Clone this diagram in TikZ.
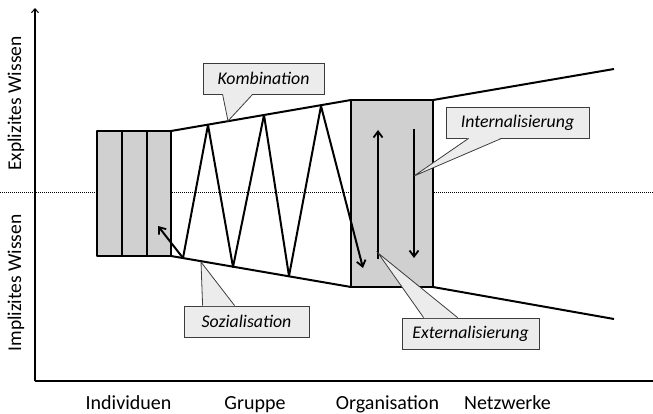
\documentclass[tikz,border=0pt]{standalone}
\usepackage{fontspec}
\setmainfont{Carlito}
\usetikzlibrary{arrows.meta}
\definecolor{blockgray}{RGB}{208,208,208}
\definecolor{callfill}{RGB}{236,236,236}
\definecolor{calledge}{RGB}{60,60,60}

\begin{document}
\begin{tikzpicture}[x=1pt,y=-1pt,
  heavy/.style={line width=2pt, line join=round},
  block/.style={heavy, fill=blockgray},
  axis/.style={line width=1.1pt},
  flow/.style={heavy, -{Straight Barb[length=6pt,width=9pt,line width=1.8pt]}},
  callbox/.style={draw=calledge, fill=callfill, line width=0.8pt, inner sep=0pt,
    font=\fontsize{17.8}{21}\selectfont\itshape},
  callline/.style={draw=calledge, line width=0.8pt, line join=miter},
  axislabel/.style={font=\fontsize{19.5}{23}\selectfont, inner sep=0pt},
  catlabel/.style={font=\fontsize{20}{24}\selectfont, inner sep=0pt, anchor=base},
]
\useasboundingbox (0,0) rectangle (653,414);
\clip (0,0) rectangle (653,414);

% axes and the explicit/implicit divide
\coordinate (origin) at (35,381);
\coordinate (ytop) at (35,8);
\coordinate (xend) at (660,381);
\draw[axis, -{Straight Barb[length=4pt,width=7pt,line width=1pt]}] (origin) -- (ytop);
\draw[axis, -{Straight Barb[length=4pt,width=7pt,line width=1pt]}] (origin) -- (xend);
\coordinate (divl) at (0,193);
\coordinate (divr) at (653,193);
\draw[line width=1pt, dash pattern=on 1pt off 1pt] (divl) -- (divr);

\node[axislabel, rotate=90] (expl) at (16,103.5) {Explizites Wissen};
\node[axislabel, rotate=90] (impl) at (16,283) {Implizites Wissen};

\node[catlabel] (ind) at (128.5,409) {Individuen};
\node[catlabel] (grp) at (255,409) {Gruppe};
\node[catlabel] (org) at (387.5,409) {Organisation};
\node[catlabel] (net) at (507.5,409) {Netzwerke};

% funnel outline
\coordinate (iTL) at (97,131);
\coordinate (iTR) at (171,131);
\coordinate (iBL) at (97,256);
\coordinate (iBR) at (171,256);
\coordinate (oTL) at (351,100);
\coordinate (oTR) at (433,100);
\coordinate (oBL) at (351,287);
\coordinate (oBR) at (433,287);
\coordinate (nT) at (614,69);
\coordinate (nB) at (614,319);

\draw[heavy] (iTR) -- (oTL);
\draw[heavy] (iBR) -- (oBL);
\draw[heavy] (oTR) -- (nT);
\draw[heavy] (oBR) -- (nB);

% individuals
\draw[block] (iTL) rectangle (iBR);
\coordinate (c1t) at (121.5,131);
\coordinate (c1b) at (121.5,256);
\coordinate (c2t) at (146.5,131);
\coordinate (c2b) at (146.5,256);
\draw[heavy] (c1t) -- (c1b);
\draw[heavy] (c2t) -- (c2b);

% organisation
\draw[block] (oTL) rectangle (oBR);

% group zigzag
\coordinate (z0) at (183,258);
\coordinate (z1) at (208,125);
\coordinate (z2) at (233,267);
\coordinate (z3) at (264,115);
\coordinate (z4) at (289,276);
\coordinate (z5) at (321,106);
\coordinate (z6) at (363,268);
\coordinate (zback) at (158,226);
\draw[flow] (z0) -- (zback);
\draw[flow] (z0) -- (z1) -- (z2) -- (z3) -- (z4) -- (z5) -- (z6);

% arrows inside the organisation
\coordinate (upB) at (378,259);
\coordinate (upT) at (378,130);
\coordinate (dnT) at (414,129);
\coordinate (dnB) at (414,258);
\draw[flow] (upB) -- (upT);
\draw[flow] (dnT) -- (dnB);

% callouts
\node[callbox, minimum width=121pt, minimum height=31pt] (kom) at (263.5,78.5) {Kombination};
\coordinate (komtip) at (228,121);
\fill[callfill] ([xshift=20pt,yshift=0.6pt]kom.south west) -- (komtip) -- ([xshift=50pt,yshift=0.6pt]kom.south west) -- cycle;
\draw[callline] ([xshift=20pt]kom.south west) -- (komtip) -- ([xshift=50pt]kom.south west);

\node[callbox, minimum width=143pt, minimum height=31pt] (int) at (517.5,122.5) {Internalisierung};
\coordinate (inttip) at (414,176);
\fill[callfill] ([xshift=23pt,yshift=0.6pt]int.south west) -- (inttip) -- ([xshift=56pt,yshift=0.6pt]int.south west) -- cycle;
\draw[callline] ([xshift=23pt]int.south west) -- (inttip) -- ([xshift=56pt]int.south west);

\node[callbox, minimum width=125pt, minimum height=31pt] (soz) at (246.5,321.5) {Sozialisation};
\coordinate (soztip) at (201,262);
\fill[callfill] ([xshift=19pt,yshift=-0.6pt]soz.north west) -- (soztip) -- ([xshift=51pt,yshift=-0.6pt]soz.north west) -- cycle;
\draw[callline] ([xshift=19pt]soz.north west) -- (soztip) -- ([xshift=51pt]soz.north west);

\node[callbox, minimum width=137pt, minimum height=31pt] (ext) at (470.5,333.5) {Externalisierung};
\coordinate (exttip) at (378,253);
\fill[callfill] ([xshift=22pt,yshift=-0.6pt]ext.north west) -- (exttip) -- ([xshift=56pt,yshift=-0.6pt]ext.north west) -- cycle;
\draw[callline] ([xshift=22pt]ext.north west) -- (exttip) -- ([xshift=56pt]ext.north west);

\end{tikzpicture}
\end{document}
